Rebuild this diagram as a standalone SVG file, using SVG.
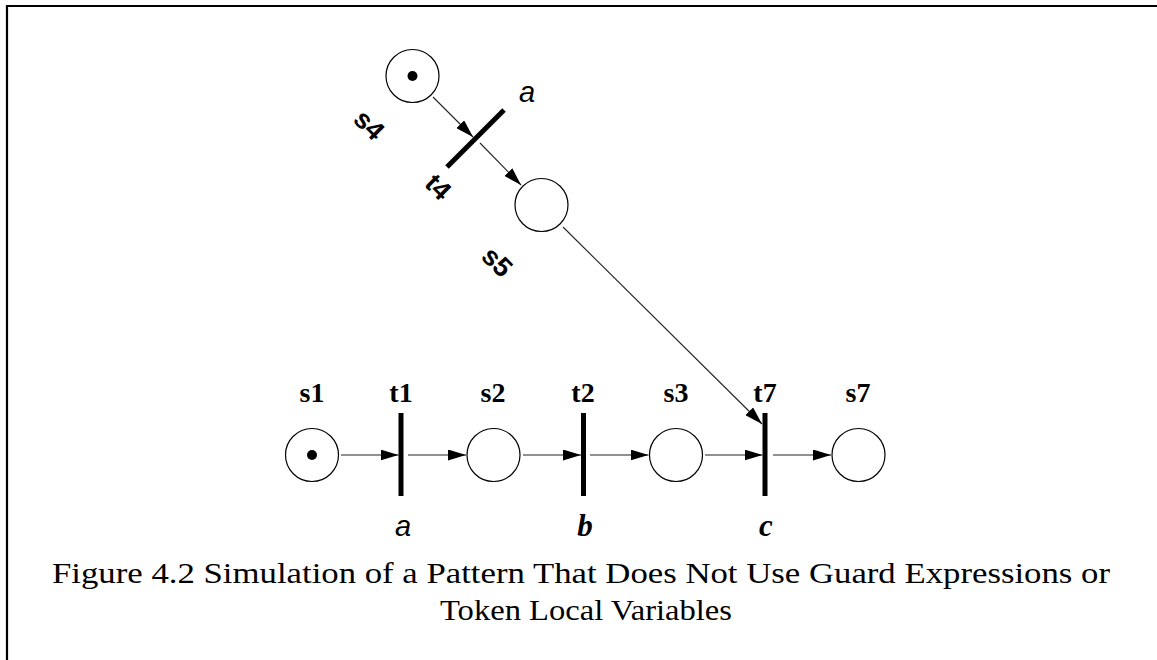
<svg xmlns="http://www.w3.org/2000/svg" width="1157" height="660" viewBox="0 0 1157 660">
<style>
.place{fill:#fff;stroke:#000;stroke-width:1.2}
.tok{fill:#000}
.bar{stroke:#000;stroke-width:5;fill:none}
.arc{stroke:#222;stroke-width:1.1;fill:none;marker-end:url(#ah)}
.lbl{font-family:"Liberation Serif",serif;font-weight:bold;font-size:28px;text-anchor:middle}
.rot{font-family:"Liberation Sans",sans-serif;font-weight:bold;font-size:27px;text-anchor:middle}
.isans{font-family:"Liberation Sans",sans-serif;font-style:italic;font-size:29px;text-anchor:middle}
.iser{font-family:"Liberation Serif",serif;font-style:italic;font-weight:bold;font-size:31px;text-anchor:middle}
.cap{font-family:"Liberation Serif",serif;font-size:30px}
</style>
<defs>
<marker id="ah" markerUnits="userSpaceOnUse" markerWidth="18" markerHeight="11" refX="18" refY="5.5" orient="auto">
<path d="M0,0 L18,5.5 L0,11 Z" fill="#000"/>
</marker>
</defs>
<rect width="1157" height="660" fill="#fff"/>
<path d="M7,660 L7,6 L1157,6" fill="none" stroke="#000" stroke-width="2.2"/>
<g id="connectors">
<line class="arc" x1="341" y1="455" x2="398.5" y2="455"/>
<line class="arc" x1="408" y1="455" x2="466" y2="455"/>
<line class="arc" x1="523" y1="455" x2="581" y2="455"/>
<line class="arc" x1="590" y1="455" x2="648.5" y2="455"/>
<line class="arc" x1="705" y1="455" x2="762.5" y2="455"/>
<line class="arc" x1="773" y1="455" x2="831" y2="455"/>
<line class="arc" x1="433" y1="97" x2="473" y2="137"/>
<line class="arc" x1="480" y1="143" x2="521" y2="185"/>
<line class="arc" x1="563" y1="227" x2="762" y2="424"/>
</g>
<g id="s1"><circle class="place" cx="312" cy="455" r="26.5"/><circle class="tok" cx="312" cy="455" r="5"/><text class="lbl" x="312" y="402">s1</text></g>
<g id="t1"><line class="bar" x1="401" y1="413" x2="401" y2="496"/><text class="lbl" x="401" y="402">t1</text><text class="isans" x="403" y="536">a</text></g>
<g id="s2"><circle class="place" cx="493.5" cy="455" r="26.5"/><text class="lbl" x="493" y="402">s2</text></g>
<g id="t2"><line class="bar" x1="583.5" y1="413" x2="583.5" y2="496"/><text class="lbl" x="583" y="402">t2</text><text class="iser" x="585" y="536">b</text></g>
<g id="s3"><circle class="place" cx="676" cy="455" r="26.5"/><text class="lbl" x="676" y="402">s3</text></g>
<g id="t7"><line class="bar" x1="765" y1="413" x2="765" y2="496"/><text class="lbl" x="765" y="402">t7</text><text class="iser" x="766" y="536">c</text></g>
<g id="s7"><circle class="place" cx="858.5" cy="455" r="26.5"/><text class="lbl" x="858" y="402">s7</text></g>
<g id="s4"><circle class="place" cx="412.5" cy="76" r="26.5"/><circle class="tok" cx="412.5" cy="76" r="5"/><text class="rot" transform="translate(369,125) rotate(45)" y="9">s4</text></g>
<g id="t4"><line class="bar" x1="447" y1="167" x2="504" y2="110"/><text class="isans" x="527" y="102">a</text><text class="rot" transform="translate(438,187) rotate(45)" y="9">t4</text></g>
<g id="s5"><circle class="place" cx="541.5" cy="205" r="26.5"/><text class="rot" transform="translate(497,262) rotate(45)" y="9">s5</text></g>
<g id="caption">
<text class="cap" x="52" y="583" textLength="1058" lengthAdjust="spacingAndGlyphs">Figure 4.2  Simulation of a Pattern That Does Not Use Guard Expressions or</text>
<text class="cap" x="440" y="620" textLength="292" lengthAdjust="spacingAndGlyphs">Token Local Variables</text>
</g>
</svg>
